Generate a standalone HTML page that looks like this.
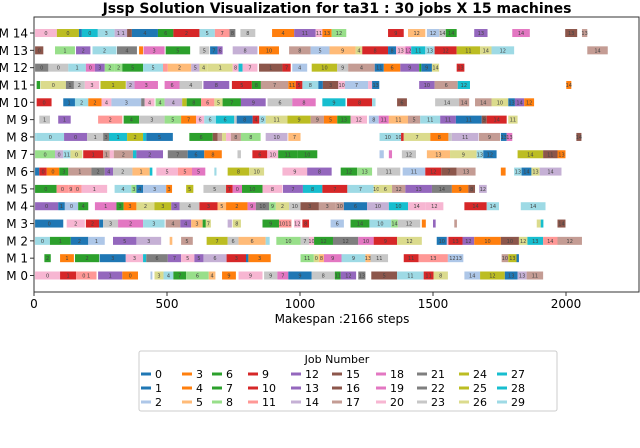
<!DOCTYPE html>
<html><head><meta charset="utf-8"><style>
body{margin:0;background:#fff;width:640px;height:443px;overflow:hidden;font-family:"Liberation Sans","DejaVu Sans",sans-serif}
</style></head><body>
<svg id="chart" width="640" height="443" viewBox="0 0 640 443" xmlns="http://www.w3.org/2000/svg" font-family="DejaVu Sans, Liberation Sans, sans-serif">
<text x="337" y="13" text-anchor="middle" font-size="14" font-weight="bold">Jssp Solution Visualization for ta31  : 30 jobs X 15 machines</text>
<g id="bars"></g>
<rect x="34" y="17" width="605" height="275" fill="none" stroke="#333" stroke-width="1"/>
<g id="axes"></g>
<text x="342" y="323" text-anchor="middle" font-size="12">Makespan :2166 steps</text>
<g>
<rect x="139" y="351" width="418" height="60" rx="2" fill="#fff" stroke="#ccc"/>
<text x="337" y="363" text-anchor="middle" font-size="11">Job Number</text>
<g id="legend"></g>
</g>
</svg>
<script>
const machineLabels=["M 0","M 1","M 2","M 3","M 4","M 5","M 6","M 7","M 8","M 9","M 10","M 11","M 12","M 13","M 14"];
const xTicks=[0,500,1000,1500,2000];
const tab20=["#1f77b4","#aec7e8","#ff7f0e","#ffbb78","#2ca02c","#98df8a","#d62728","#ff9896","#9467bd","#c5b0d5","#8c564b","#c49c94","#e377c2","#f7b6d2","#7f7f7f","#c7c7c7","#bcbd22","#dbdb8d","#17becf","#9edae5"];
const jobs=[...Array(30).keys()];
// [start, end, job, label]
const m14=[[4,86,20,"0"],[86,169,24,"0"],[169,180,0,"2"],[180,240,27,"0"],[240,303,29,"3"],[303,350,14,"1 1"],[350,368,15,"3"],[368,466,0,"4"],[466,524,6,"6"],[524,622,9,"2"],[622,680,29,"5"],[680,735,11,"7"],[735,757,21,"8"],[776,832,23,"8"],[895,978,3,"4"],[978,1059,12,"11"],[1059,1084,20,"11"],[1084,1119,3,"13"],[1119,1174,8,"12"],[1331,1390,9,"9"],[1406,1471,5,"12"],[1477,1523,2,"12"],[1523,1548,23,"14"],[1548,1589,6,"14"],[1655,1705,12,"13"],[1798,1864,18,"14"],[1997,2042,15,"13"],[2060,2080,17,"13"]];
const m13=[[4,35,15,"0"],[79,154,8,"1"],[158,212,12,"2"],[220,310,29,"2"],[312,387,21,"4"],[395,410,3,"1"],[412,491,18,"3"],[495,587,6,"5"],[622,659,23,"5"],[662,690,0,"7"],[690,709,12,"6"],[747,840,14,"8"],[846,921,3,"10"],[959,1040,17,"8"],[1040,1111,2,"5"],[1111,1209,5,"9"],[1209,1234,26,"4"],[1234,1331,9,"8"],[1331,1361,0,"8"],[1361,1396,20,"13"],[1396,1418,18,"12"],[1418,1471,27,"11"],[1471,1506,29,"13"],[1506,1589,9,"12"],[1589,1677,24,"11"],[1677,1720,26,"14"],[1720,1805,29,"12"],[2080,2157,17,"14"]];
const m12=[[4,54,21,"0"],[54,129,23,"0"],[129,195,29,"1"],[195,229,18,"0"],[229,266,12,"3"],[266,304,8,"2"],[304,332,8,"2"],[332,410,6,"5"],[410,485,29,"5"],[485,503,11,"4"],[503,591,5,"2"],[591,622,14,"5"],[622,653,26,"4"],[653,747,26,"1"],[747,769,20,"8"],[769,784,27,"7"],[784,840,20,"7"],[846,934,15,"1"],[934,965,9,"7"],[971,1027,2,"4"],[1044,1140,24,"10"],[1140,1181,23,"9"],[1181,1281,17,"4"],[1281,1315,0,"11"],[1315,1377,3,"6"],[1377,1448,12,"9"],[1448,1456,6,""],[1456,1496,0,"9"],[1496,1523,26,"14"],[1589,1618,9,"13"]];
const m11=[[10,23,6,"0"],[25,120,26,"0"],[120,150,21,"1"],[150,191,23,"2"],[191,245,20,"3"],[250,345,24,"1"],[347,378,14,"2"],[378,466,18,"3"],[491,547,18,"6"],[547,632,23,"4"],[637,734,12,"8"],[744,819,9,"5"],[819,853,6,"8"],[853,956,17,"7"],[956,984,3,"11"],[984,1009,9,"5"],[1009,1069,29,"8"],[1069,1086,0,"10"],[1086,1144,15,"3"],[1144,1169,20,"10"],[1169,1256,2,"7"],[1256,1271,20,"10"],[1271,1298,0,"13"],[1448,1506,12,"10"],[1506,1593,17,"6"],[1593,1639,27,"12"],[2001,2020,3,"14"]];
const m10=[[10,66,9,"0"],[110,154,0,"1"],[154,204,29,"2"],[204,254,3,"2"],[254,291,20,"4"],[291,403,2,"3"],[403,416,21,"3"],[416,453,20,"4"],[457,491,8,"4"],[491,557,14,"4"],[557,574,24,"4"],[574,628,6,"8"],[628,678,11,"6"],[678,709,26,"5"],[709,778,6,"7"],[778,871,12,"9"],[878,971,23,"6"],[971,1059,18,"8"],[1084,1171,27,"9"],[1177,1271,9,"8"],[1271,1284,29,"8"],[1365,1402,15,"6"],[1508,1598,23,"14"],[1598,1636,17,"14"],[1658,1720,17,"14"],[1720,1783,26,"10"],[1783,1808,0,"13"],[1808,1843,12,"14"],[1843,1880,3,"12"]];
const m9=[[20,60,23,"1"],[91,138,12,"1"],[241,332,11,"2"],[337,395,6,"4"],[395,491,23,"3"],[491,553,8,"5"],[553,609,3,"7"],[609,640,20,"6"],[640,684,29,"6"],[684,753,27,"6"],[753,762,23,"9"],[762,822,0,"8"],[822,847,9,"4"],[847,871,29,"9"],[871,953,26,"11"],[953,1040,24,"9"],[1040,1090,17,"9"],[1090,1140,3,"5"],[1140,1190,6,"13"],[1190,1252,20,"12"],[1259,1296,2,"8"],[1296,1334,18,"11"],[1334,1406,5,"11"],[1406,1452,17,"5"],[1452,1527,29,"11"],[1527,1586,12,"11"],[1586,1683,0,"11"],[1683,1702,15,"9"],[1702,1777,9,"14"],[1783,1818,26,"11"]];
const m8=[[4,10,29,"0"],[10,113,29,"0"],[113,200,12,"0"],[200,260,23,"1"],[260,282,21,"3"],[282,350,27,"1"],[350,410,24,"2"],[410,422,27,"4"],[422,522,0,"5"],[584,672,6,"6"],[672,690,15,"5"],[690,707,17,"6"],[707,722,26,"5"],[722,740,20,"6"],[740,778,17,"8"],[778,852,8,"8"],[871,953,14,"10"],[956,1002,5,"7"],[1299,1361,29,"10"],[1361,1380,29,"10"],[1380,1390,9,""],[1390,1490,26,"7"],[1490,1558,3,"8"],[1558,1571,23,"14"],[1571,1671,14,"11"],[1673,1752,17,"9"],[1755,1777,0,"13"],[1777,1798,18,"13"],[2039,2058,15,"14"]];
const m7=[[4,79,8,"0"],[79,110,14,"0"],[110,137,29,"11"],[137,182,26,"0"],[185,260,9,"1"],[260,285,17,"1"],[285,300,20,"2"],[300,372,17,"2"],[372,385,27,"2"],[385,485,12,"2"],[503,578,21,"7"],[578,640,0,"6"],[640,706,3,"8"],[765,778,23,"7"],[821,877,9,"6"],[877,918,20,"10"],[918,990,6,"11"],[990,1065,6,"10"],[1299,1315,2,"9"],[1334,1346,18,"12"],[1383,1436,23,"12"],[1477,1564,5,"13"],[1564,1664,26,"9"],[1664,1689,29,"13"],[1689,1739,0,"12"],[1818,1914,24,"14"],[1914,1968,15,"11"],[1968,1998,3,"13"]];
const m6=[[4,20,0,"0"],[20,48,9,"0"],[48,95,3,"0"],[95,129,6,"3"],[129,216,17,"1"],[216,266,21,"2"],[266,297,12,"4"],[297,370,23,"2"],[370,435,5,"1"],[435,445,27,""],[460,541,20,"5"],[541,594,11,"5"],[594,644,18,"5"],[678,686,29,"6"],[728,809,24,"8"],[809,865,26,"10"],[934,1027,20,"9"],[1027,1119,12,"8"],[1153,1215,6,"12"],[1215,1271,8,"13"],[1290,1377,23,"11"],[1386,1471,2,"11"],[1471,1531,9,"12"],[1531,1589,15,"7"],[1589,1660,17,"13"],[1755,1773,3,"11"],[1805,1833,29,"13"],[1833,1870,0,"14"],[1870,1901,26,"13"],[1901,1983,14,"14"]];
const m5=[[4,85,6,"0"],[85,129,11,"0"],[129,148,11,"9"],[148,179,11,"0"],[179,275,20,"1"],[303,366,29,"4"],[366,385,8,"3"],[385,410,0,"4"],[410,497,2,"3"],[497,519,3,"3"],[572,599,24,"5"],[637,722,23,"5"],[722,747,9,"7"],[747,782,18,"0"],[782,859,6,"10"],[859,934,20,"8"],[936,1011,12,"7"],[1011,1084,27,"8"],[1084,1178,9,"7"],[1178,1277,29,"7"],[1277,1296,26,"10"],[1296,1346,26,"6"],[1346,1396,17,"12"],[1396,1496,12,"13"],[1496,1571,21,"14"],[1571,1633,3,"9"],[1633,1658,15,"8"],[1673,1702,14,"12"]];
const m4=[[4,91,12,"0"],[91,116,0,"1"],[116,166,2,"0"],[166,204,6,"4"],[229,310,18,"1"],[310,337,6,"3"],[337,385,3,"3"],[385,453,26,"2"],[453,516,24,"3"],[516,547,12,"3"],[547,622,23,"4"],[622,690,9,"3"],[690,722,5,"5"],[722,803,3,"2"],[803,834,18,"9"],[834,884,21,"10"],[884,909,8,"9"],[909,959,26,"2"],[959,1002,23,"10"],[1002,1071,15,"3"],[1071,1134,17,"3"],[1134,1165,17,"10"],[1165,1252,0,"6"],[1252,1334,14,"10"],[1334,1406,27,"10"],[1406,1471,20,"14"],[1471,1539,20,"12"],[1618,1702,9,"14"],[1702,1748,29,"14"],[1830,1923,29,"14"]];
const m3=[[4,110,0,"0"],[123,191,20,"2"],[195,245,9,"2"],[245,260,0,"1"],[260,316,23,"3"],[316,410,18,"2"],[410,491,29,"3"],[495,550,17,"4"],[550,591,12,"4"],[591,634,5,"3"],[634,646,6,"6"],[646,665,26,"7"],[728,744,14,"7"],[747,778,26,"8"],[859,921,6,"9"],[921,968,11,"1011"],[978,1002,20,"12"],[1009,1034,9,"8"],[1115,1165,2,"6"],[1190,1261,6,"14"],[1261,1343,29,"10"],[1343,1368,8,"14"],[1368,1452,23,"12"],[1458,1473,3,"7"],[1500,1510,12,"14"],[1580,1590,17,"7"],[1890,1905,26,"14"],[1905,1915,27,"4"],[1968,1998,15,"14"]];
const m2=[[4,60,29,"0"],[60,138,6,"1"],[138,204,0,"2"],[204,266,2,"1"],[297,385,12,"5"],[385,478,14,"3"],[510,520,5,"4"],[553,597,17,"5"],[649,728,24,"7"],[728,769,23,"6"],[769,871,5,"6"],[871,886,29,"7"],[911,1002,8,"10"],[1002,1034,23,"7"],[1034,1053,20,"10"],[1053,1124,6,"12"],[1124,1219,21,"12"],[1219,1277,18,"10"],[1277,1365,9,"9"],[1365,1458,26,"12"],[1514,1552,0,"10"],[1552,1558,20,""],[1558,1611,9,"13"],[1611,1655,12,"12"],[1655,1755,3,"10"],[1755,1823,15,"10"],[1823,1855,26,"12"],[1855,1914,27,"13"],[1914,1968,11,"14"],[1968,2060,17,"12"]];
const m1=[[39,63,6,"2"],[98,150,3,"1"],[154,245,6,"2"],[247,345,0,"3"],[345,410,20,"3"],[410,422,27,"3"],[422,503,21,"6"],[503,553,12,"7"],[553,603,20,"5"],[603,637,12,"5"],[637,724,14,"6"],[724,797,9,"3"],[797,806,0,"9"],[806,890,3,"3"],[1002,1052,8,"11"],[1052,1071,26,"0"],[1071,1090,5,"8"],[1090,1156,18,"9"],[1156,1246,29,"9"],[1246,1265,5,"13"],[1265,1331,23,"11"],[1390,1446,9,"11"],[1446,1556,11,"13"],[1556,1614,2,"1213"],[1758,1783,17,"10"],[1783,1814,24,"13"],[1814,1823,0,""]];
const m0=[[4,98,20,"0"],[98,158,9,"1"],[158,235,11,"0 1"],[241,332,12,"1"],[332,391,3,"0"],[438,445,2,"4"],[453,487,26,"3"],[487,524,29,"4"],[524,572,6,"7"],[572,657,8,"6"],[657,682,5,"4"],[707,759,3,"9"],[769,859,20,"9"],[865,915,23,"9"],[915,956,18,"7"],[956,1044,0,"9"],[1044,1131,23,"8"],[1131,1153,6,"11"],[1153,1211,12,"12"],[1219,1246,21,"13"],[1268,1365,15,"5"],[1365,1465,29,"11"],[1465,1502,9,"11"],[1502,1556,26,"8"],[1618,1677,2,"14"],[1677,1770,24,"12"],[1770,1818,0,"13"],[1818,1852,14,"13"],[1852,1914,17,"11"]];
const schedule=[m0,m1,m2,m3,m4,m5,m6,m7,m8,m9,m10,m11,m12,m13,m14];

const NS="http://www.w3.org/2000/svg";
const X0=34,XS=0.266;
const xPos=t=>X0+t*XS;
const yPos=m=>275.5-m*17.32;
const jobColor=j=>tab20[Math.floor(j*20/30)];
const barsG=document.getElementById('bars');
schedule.forEach((ops,m)=>{
  ops.forEach(op=>{
    const r=document.createElementNS(NS,'rect');
    
    
    const x=xPos(op[0]),w=xPos(op[1])-x;
    r.setAttribute('x',x);r.setAttribute('y',yPos(m)-4);
    r.setAttribute('width',Math.max(w,1));r.setAttribute('height',8);
    r.setAttribute('fill',jobColor(op[2]));
    barsG.appendChild(r);
    if(op[3]&&w>5){
      const t=document.createElementNS(NS,'text');
      
      
      t.setAttribute('x',x+w/2);t.setAttribute('y',yPos(m)+2);
      t.setAttribute('text-anchor','middle');t.setAttribute('font-size','5');
      t.setAttribute('fill','#444');
      t.textContent=op[3];
      barsG.appendChild(t);
    }
  });
});
const axG=document.getElementById('axes');
machineLabels.forEach((lab,m)=>{
  const l=document.createElementNS(NS,'line');
  
  
  l.setAttribute('x1',30);l.setAttribute('x2',34);l.setAttribute('y1',yPos(m));l.setAttribute('y2',yPos(m));l.setAttribute('stroke','#333');
  axG.appendChild(l);
  const t=document.createElementNS(NS,'text');
  
  
  t.setAttribute('x',28);t.setAttribute('y',yPos(m)+4.5);t.setAttribute('text-anchor','end');t.setAttribute('font-size','12');
  t.textContent=lab;axG.appendChild(t);
});
xTicks.forEach(v=>{
  const l=document.createElementNS(NS,'line');
  
  
  l.setAttribute('x1',xPos(v));l.setAttribute('x2',xPos(v));l.setAttribute('y1',292);l.setAttribute('y2',296);l.setAttribute('stroke','#333');
  axG.appendChild(l);
  const t=document.createElementNS(NS,'text');
  
  
  t.setAttribute('x',xPos(v));t.setAttribute('y',308);t.setAttribute('text-anchor','middle');t.setAttribute('font-size','12');
  t.textContent=v;axG.appendChild(t);
});
const colX=[141,182,212,248,291,332,376,417,459,497];
const lg=document.getElementById('legend');
jobs.forEach(j=>{
  const c=Math.floor(j/3),r=j%3,y=374+r*14;
  const l=document.createElementNS(NS,'rect');
  
  
  l.setAttribute('x',colX[c]);l.setAttribute('y',y-1.5);l.setAttribute('width',10);l.setAttribute('height',3);l.setAttribute('fill',jobColor(j));
  lg.appendChild(l);
  const t=document.createElementNS(NS,'text');
  
  
  t.setAttribute('x',colX[c]+14);t.setAttribute('y',y+4);t.setAttribute('font-size','11');
  t.textContent=j;lg.appendChild(t);
});
</script>
</body></html>
